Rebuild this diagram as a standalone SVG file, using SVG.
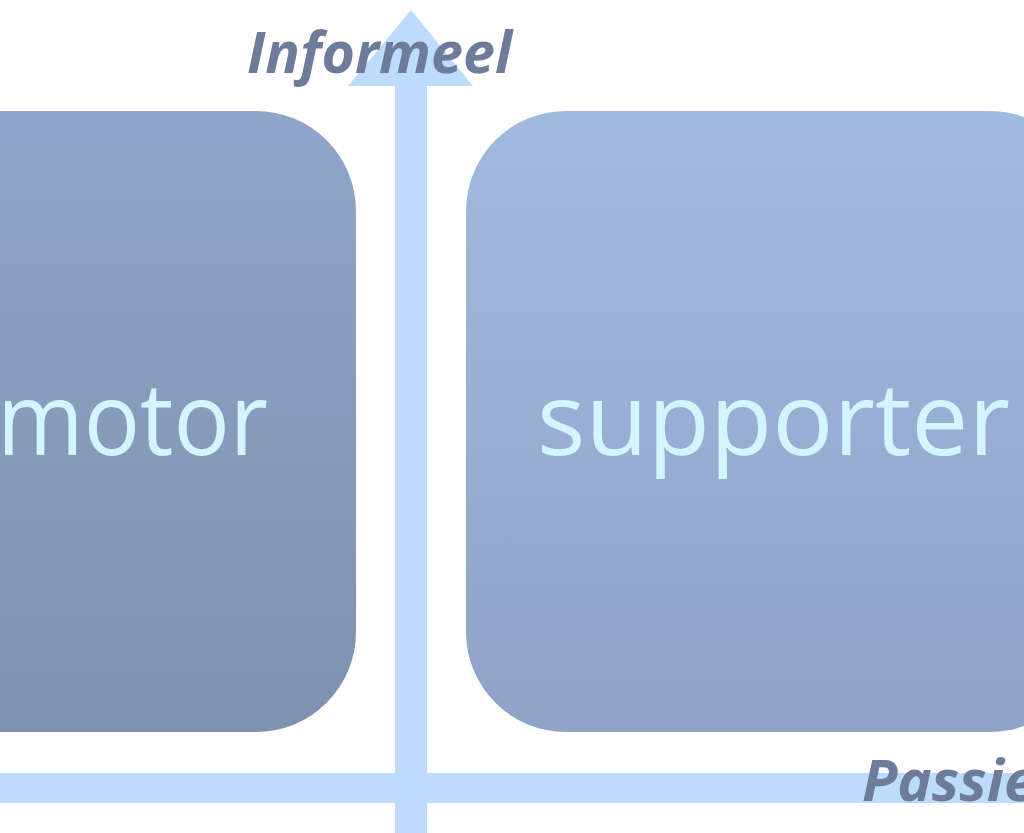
<svg xmlns="http://www.w3.org/2000/svg" width="1024" height="833" viewBox="0 0 1024 833">
<defs>
<linearGradient id="gL" x1="0" y1="0" x2="0" y2="1">
<stop offset="0" stop-color="#8FA5C9"/>
<stop offset="1" stop-color="#7F91B1"/>
</linearGradient>
<linearGradient id="gR" x1="0" y1="0" x2="0" y2="1">
<stop offset="0" stop-color="#A2B9E0"/>
<stop offset="1" stop-color="#8FA3C7"/>
</linearGradient>
<style>
.axis{fill:#BDDCFD}
.big{font-family:"Open Sans","Noto Sans",sans-serif;font-size:101px;fill:#D3F5FF}
.lbl{font-family:"Open Sans","Noto Sans",sans-serif;font-size:58px;font-weight:bold;font-style:italic;fill:#6D7C9B}
</style>
</defs>
<rect width="1024" height="833" fill="#FFFFFF"/>
<g id="node-motor">
<rect x="-267" y="111" width="623" height="621" rx="100" ry="100" fill="url(#gL)"/>
<text class="big" x="-3" y="455" textLength="271" lengthAdjust="spacingAndGlyphs">motor</text>
</g>
<g id="node-supporter">
<rect x="466" y="111" width="624" height="621" rx="100" ry="100" fill="url(#gR)"/>
<text class="big" x="537" y="455" textLength="473" lengthAdjust="spacingAndGlyphs">supporter</text>
</g>
<g id="connectors">
<rect class="axis" x="0" y="773" width="1024" height="30"/>
<polygon class="axis" points="395,833 395,86 348,86 411,10 473,86 427,86 427,833"/>
</g>
<g id="labels">
<text class="lbl" x="247" y="73" textLength="265" lengthAdjust="spacingAndGlyphs">Informeel</text>
<text class="lbl" x="862" y="801">Passie</text>
</g>
</svg>
